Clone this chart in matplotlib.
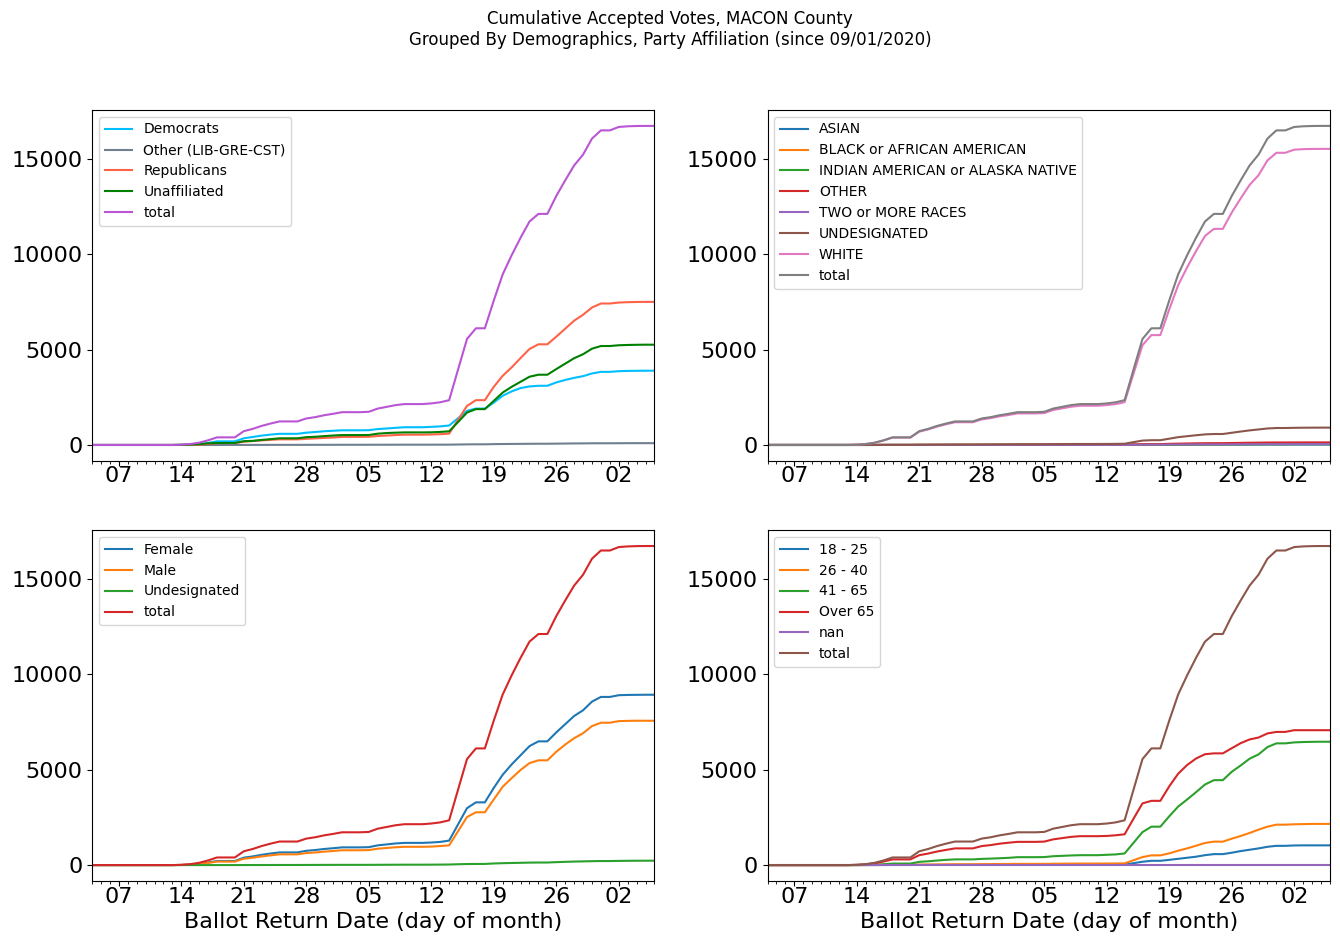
import matplotlib
matplotlib.use("Agg")
import matplotlib.pyplot as plt
import matplotlib.dates as mdates
from matplotlib.ticker import MultipleLocator
import pandas as pd

# Dates: 2020-09-04 .. 2020-11-06 (daily)
dates = pd.date_range("2020-09-04", "2020-11-06", freq="D")

Z = [0] * 10  # Sep 4 - Sep 13

total = Z + [15, 50, 120, 245, 400, 400, 400,
             725, 845, 1000, 1125, 1235, 1235, 1235,
             1390, 1460, 1560, 1635, 1720, 1720, 1720,
             1740, 1910, 2000, 2090, 2145, 2145, 2145,
             2180, 2240, 2350, 3960, 5560, 6120, 6120,
             7580, 8950, 9950, 10870, 11720, 12120, 12120,
             13060, 13880, 14660, 15230, 16070, 16500, 16500,
             16680, 16715, 16730, 16735, 16735]

# ---- Party affiliation ----
democrats = Z + [5, 20, 50, 105, 190, 190, 190,
                 350, 420, 490, 545, 585, 585, 585,
                 645, 680, 720, 745, 770, 770, 770,
                 775, 835, 865, 900, 930, 930, 930,
                 950, 975, 1020, 1405, 1790, 1910, 1910,
                 2225, 2580, 2810, 2985, 3070, 3105, 3105,
                 3280, 3410, 3520, 3610, 3750, 3835, 3835,
                 3870, 3885, 3890, 3895, 3895]
other_party = Z + [0, 0, 0, 0, 2, 2, 2,
                   3, 4, 5, 5, 6, 6, 6,
                   7, 8, 8, 9, 10, 10, 10,
                   11, 12, 13, 14, 15, 15, 15,
                   15, 16, 17, 25, 32, 35, 35,
                   45, 50, 55, 58, 62, 65, 65,
                   70, 75, 80, 84, 88, 90, 90,
                   92, 94, 95, 95, 95]
republicans = Z + [5, 10, 25, 55, 100, 100, 100,
                   170, 205, 240, 270, 295, 295, 295,
                   325, 345, 370, 390, 425, 425, 425,
                   430, 470, 495, 520, 540, 540, 540,
                   550, 565, 595, 1320, 2050, 2350, 2350,
                   3050, 3630, 4070, 4560, 5035, 5280, 5280,
                   5680, 6100, 6520, 6830, 7210, 7420, 7420,
                   7470, 7490, 7500, 7505, 7505]
unaffiliated = Z + [5, 20, 45, 85, 105, 105, 105,
                    200, 215, 265, 305, 350, 350, 350,
                    410, 430, 465, 495, 520, 520, 520,
                    523, 592, 626, 645, 660, 660, 660,
                    665, 685, 715, 1205, 1700, 1880, 1880,
                    2315, 2750, 3050, 3315, 3580, 3685, 3685,
                    3980, 4265, 4550, 4760, 5050, 5190, 5190,
                    5230, 5245, 5255, 5260, 5260]

# ---- Race ----
asian = Z + [0, 0, 0, 1, 1, 1, 1,
             1, 1, 2, 2, 2, 2, 2,
             2, 2, 3, 3, 3, 3, 3,
             3, 3, 4, 4, 4, 4, 4,
             4, 4, 4, 7, 9, 10, 10,
             12, 13, 15, 16, 17, 18, 18,
             19, 20, 21, 22, 24, 24, 24,
             25, 25, 25, 25, 25]
black = Z + [0, 0, 1, 1, 2, 2, 2,
             3, 3, 4, 4, 5, 5, 5,
             5, 6, 6, 7, 7, 7, 7,
             7, 8, 8, 9, 9, 9, 9,
             9, 10, 10, 15, 20, 22, 22,
             27, 31, 34, 37, 39, 40, 40,
             43, 46, 48, 50, 52, 53, 53,
             54, 55, 55, 55, 55]
indian = Z + [0, 0, 0, 1, 1, 1, 1,
              2, 2, 2, 3, 3, 3, 3,
              3, 3, 4, 4, 4, 4, 4,
              4, 5, 5, 5, 5, 5, 5,
              5, 6, 6, 9, 12, 13, 13,
              16, 19, 21, 23, 24, 25, 25,
              27, 29, 30, 31, 33, 34, 34,
              35, 35, 35, 35, 35]
other_race = Z + [0, 0, 1, 1, 2, 2, 2,
                  3, 4, 5, 5, 6, 6, 6,
                  6, 7, 7, 8, 8, 8, 8,
                  8, 9, 9, 10, 10, 10, 10,
                  11, 11, 12, 26, 40, 45, 45,
                  60, 70, 78, 86, 92, 95, 95,
                  103, 110, 117, 122, 128, 131, 131,
                  133, 134, 135, 135, 135]
two_more = Z + [0, 0, 0, 1, 1, 1, 1,
                2, 2, 2, 3, 3, 3, 3,
                4, 4, 4, 5, 5, 5, 5,
                5, 5, 6, 6, 6, 6, 6,
                6, 7, 7, 11, 15, 17, 17,
                21, 24, 27, 30, 31, 32, 32,
                35, 37, 39, 40, 42, 43, 43,
                44, 45, 45, 45, 45]
undesig_race = Z + [0, 1, 3, 5, 8, 8, 8,
                    14, 16, 19, 21, 24, 24, 24,
                    28, 30, 33, 35, 38, 38, 38,
                    39, 44, 47, 50, 52, 52, 52,
                    54, 58, 65, 150, 230, 250, 250,
                    330, 410, 460, 510, 555, 575, 575,
                    640, 705, 765, 815, 865, 890, 890,
                    900, 905, 908, 910, 910]
white = Z + [15, 49, 115, 235, 385, 385, 385,
             700, 817, 966, 1087, 1192, 1192, 1192,
             1342, 1408, 1503, 1573, 1655, 1655, 1655,
             1674, 1836, 1921, 2006, 2059, 2059, 2059,
             2091, 2144, 2246, 3742, 5234, 5763, 5763,
             7114, 8383, 9315, 10168, 10962, 11335, 11335,
             12193, 12933, 13640, 14150, 14926, 15325, 15325,
             15489, 15516, 15527, 15530, 15530]

# ---- Gender ----
female = Z + [8, 27, 65, 132, 215, 215, 215,
              390, 455, 540, 608, 665, 665, 665,
              750, 790, 845, 885, 930, 930, 930,
              940, 1035, 1085, 1135, 1165, 1165, 1165,
              1185, 1215, 1285, 2135, 2985, 3290, 3290,
              4050, 4740, 5280, 5760, 6240, 6490, 6490,
              6960, 7390, 7820, 8120, 8575, 8820, 8820,
              8910, 8925, 8930, 8935, 8935]
male = Z + [7, 23, 55, 113, 184, 184, 184,
            333, 387, 456, 512, 564, 564, 564,
            632, 661, 705, 739, 778, 778, 778,
            787, 860, 898, 936, 959, 959, 959,
            972, 999, 1035, 1780, 2520, 2770, 2770,
            3445, 4110, 4560, 4990, 5350, 5495, 5495,
            5945, 6320, 6655, 6915, 7290, 7468, 7468,
            7550, 7565, 7572, 7570, 7570]
undesig_gender = Z + [0, 0, 0, 0, 1, 1, 1,
                      2, 3, 4, 5, 6, 6, 6,
                      8, 9, 10, 11, 12, 12, 12,
                      13, 15, 17, 19, 21, 21, 21,
                      23, 26, 30, 45, 55, 60, 60,
                      85, 100, 110, 120, 130, 135, 135,
                      155, 170, 185, 195, 205, 212, 212,
                      220, 225, 228, 230, 230]

# ---- Age ----
age_18_25 = Z + [0, 1, 2, 4, 6, 6, 6,
                 9, 10, 12, 13, 15, 15, 15,
                 17, 18, 20, 21, 23, 23, 23,
                 23, 25, 26, 27, 28, 28, 28,
                 29, 30, 32, 100, 175, 225, 225,
                 275, 330, 385, 440, 520, 575, 575,
                 650, 735, 805, 875, 960, 1010, 1010,
                 1030, 1035, 1035, 1035, 1035]
age_26_40 = Z + [0, 2, 5, 10, 16, 16, 16,
                 25, 30, 35, 40, 44, 44, 44,
                 50, 53, 57, 60, 64, 64, 64,
                 65, 70, 74, 78, 80, 80, 80,
                 82, 86, 92, 255, 420, 510, 510,
                 615, 755, 877, 1015, 1160, 1230, 1230,
                 1385, 1525, 1685, 1860, 2015, 2120, 2120,
                 2140, 2150, 2160, 2160, 2160]
age_41_65 = Z + [2, 8, 20, 45, 80, 80, 80,
                 170, 200, 240, 275, 300, 300, 300,
                 325, 340, 360, 380, 415, 415, 415,
                 420, 465, 485, 505, 520, 520, 520,
                 540, 560, 610, 1170, 1730, 2015, 2015,
                 2560, 3070, 3440, 3825, 4225, 4455, 4455,
                 4895, 5225, 5580, 5805, 6190, 6385, 6385,
                 6435, 6455, 6465, 6470, 6470]
age_over_65 = Z + [13, 39, 93, 186, 298, 298, 298,
                   521, 605, 713, 797, 876, 876, 876,
                   998, 1049, 1123, 1174, 1218, 1218, 1218,
                   1232, 1350, 1415, 1480, 1517, 1517, 1517,
                   1529, 1564, 1616, 2435, 3235, 3370, 3370,
                   4130, 4795, 5248, 5590, 5815, 5860, 5860,
                   6130, 6395, 6590, 6690, 6905, 6985, 6985,
                   7075, 7075, 7075, 7075, 7075]
age_nan = [0] * len(total)

panels = [
    [("Democrats", democrats, "deepskyblue"),
     ("Other (LIB-GRE-CST)", other_party, "slategray"),
     ("Republicans", republicans, "tomato"),
     ("Unaffiliated", unaffiliated, "green"),
     ("total", total, "mediumorchid")],
    [("ASIAN", asian, "tab:blue"),
     ("BLACK or AFRICAN AMERICAN", black, "tab:orange"),
     ("INDIAN AMERICAN or ALASKA NATIVE", indian, "tab:green"),
     ("OTHER", other_race, "tab:red"),
     ("TWO or MORE RACES", two_more, "tab:purple"),
     ("UNDESIGNATED", undesig_race, "tab:brown"),
     ("WHITE", white, "tab:pink"),
     ("total", total, "tab:gray")],
    [("Female", female, "tab:blue"),
     ("Male", male, "tab:orange"),
     ("Undesignated", undesig_gender, "tab:green"),
     ("total", total, "tab:red")],
    [("18 - 25", age_18_25, "tab:blue"),
     ("26 - 40", age_26_40, "tab:orange"),
     ("41 - 65", age_41_65, "tab:green"),
     ("Over 65", age_over_65, "tab:red"),
     ("nan", age_nan, "tab:purple"),
     ("total", total, "tab:brown")],
]

fig, axes = plt.subplots(2, 2, figsize=(13.4, 9.43), dpi=100)
fig.subplots_adjust(left=0.0687, right=0.9925, top=0.8834, bottom=0.0657,
                    wspace=0.201, hspace=0.197)
fig.suptitle("Cumulative Accepted Votes, MACON County\n"
             "Grouped By Demographics, Party Affiliation (since 09/01/2020)",
             fontsize=12, y=0.989)

for ax, series in zip(axes.flat, panels):
    for name, vals, col in series:
        ax.plot(dates, vals, color=col, lw=1.5, label=name)
    ax.set_xlim(dates[0], dates[-1])
    ax.yaxis.set_major_locator(MultipleLocator(5000))
    ax.xaxis.set_major_locator(mdates.WeekdayLocator(byweekday=mdates.MO))
    ax.xaxis.set_major_formatter(mdates.DateFormatter("%d"))
    ax.xaxis.set_minor_locator(mdates.DayLocator())
    ax.tick_params(axis="both", which="major", labelsize=16)
    ax.tick_params(axis="x", which="major", pad=0.5)
    ax.legend(loc="upper left", fontsize=10)

for ax in axes[1]:
    ax.set_xlabel("Ballot Return Date (day of month)", fontsize=16)

fig.savefig("out.png", dpi=100)
